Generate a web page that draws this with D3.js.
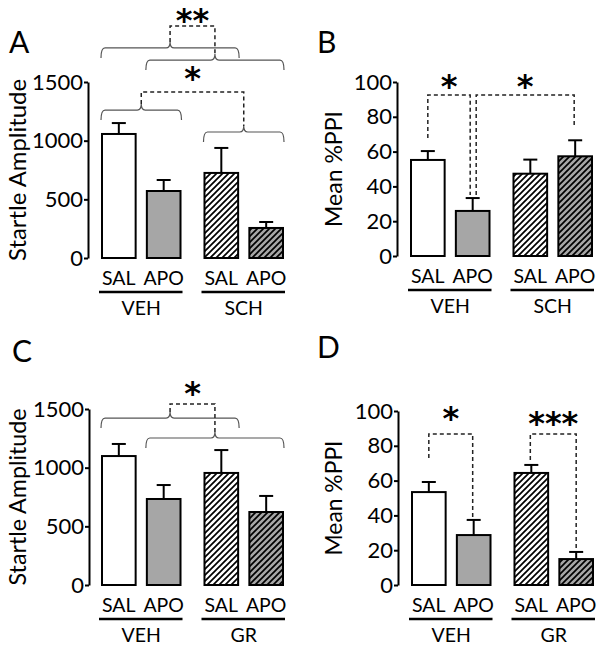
<!DOCTYPE html>
<html>
<head>
<meta charset="utf-8">
<script src="https://cdn.jsdelivr.net/npm/d3@7"></script>
<style>
body { margin: 0; background: #fff; }
svg { display: block; font-family: Lato, "Open Sans", sans-serif; }
</style>
</head>
<body>
<div id="chart"></div>
<script>
"use strict";

// categories
var conditions = ["SAL", "APO"];
var groupsSCH = ["VEH", "SCH"];
var groupsGR = ["VEH", "GR"];

// tick labels
var startleTicks = [0, 500, 1000, 1500];
var ppiTicks = [0, 20, 40, 60, 80, 100];

// A: startle amplitude, SCH experiment (mean, sem)
var startleSCH = [1057, 571, 725, 256];
var startleSCHsem = [93, 94, 213, 51];
// B: mean %PPI, SCH experiment
var ppiSCH = [55.2, 25.9, 47.3, 57.3];
var ppiSCHsem = [5.1, 7.4, 8.1, 9.2];
// C: startle amplitude, GR experiment
var startleGR = [1099, 733, 955, 622];
var startleGRsem = [103, 119, 195, 137];
// D: mean %PPI, GR experiment
var ppiGR = [53.4, 28.7, 64.4, 14.9];
var ppiGRsem = [5.8, 8.7, 4.6, 4.1];

var width = 602, height = 651;
var gray = "#a6a6a6";
var fills = ["#fff", gray, "url(#hatchW)", "url(#hatchG)"];

var svg = d3.select("#chart").append("svg")
    .attr("width", width)
    .attr("height", height);

svg.append("rect").attr("width", width).attr("height", height).attr("fill", "#fff");

// Hatch patterns for the antagonist bars.
var defs = svg.append("defs");
[["hatchW", "#fff"], ["hatchG", gray]].forEach(function(h) {
    var pat = defs.append("pattern")
        .attr("id", h[0])
        .attr("patternUnits", "userSpaceOnUse")
        .attr("width", 6)
        .attr("height", 6);
    pat.append("rect").attr("width", 6).attr("height", 6).attr("fill", h[1]);
    pat.append("path")
        .attr("d", "M-1,1 l2,-2 M0,6 l6,-6 M5,7 l2,-2")
        .attr("stroke", "#000")
        .attr("stroke-width", 1.7);
});

var panels = [
    {letter: "A", lx: 9, ly: 53, axisX: 88, x0: 102, x1: 283, yZero: 258, yTop: 82,
     max: 1500, ticks: startleTicks, ylabel: "Startle Amplitude", labelX: 26, labelLen: 182,
     groups: groupsSCH, values: startleSCH, sem: startleSCHsem,
     braces: [{from: 0, to: 2, y: 1790}, {from: 1, to: 3, y: 1687},
              {from: 0, to: 1, y: 1261}, {from: 2, to: 3, y: 1074}],
     links: [{a: 0, b: 1, y: 1977, label: "**", labelY: 2054},
             {a: 2, b: 3, y: 1415, label: "*", labelY: 1560}],
     brackets: []},
    {letter: "B", lx: 317, ly: 53, axisX: 397, x0: 411, x1: 592, yZero: 256, yTop: 82,
     max: 100, ticks: ppiTicks, ylabel: "Mean %PPI", labelX: 342, labelLen: 116,
     groups: groupsSCH, values: ppiSCH, sem: ppiSCHsem,
     braces: [], links: [],
     brackets: [{a: 0, aOff: 0, aY: 67.8, b: 1, bOff: -2.5, bY: 35, y: 92.5, label: "*", labelY: 99.4},
                {a: 1, aOff: 3.5, aY: 35, b: 3, bOff: -1, bY: 73.6, y: 92.5, label: "*", labelY: 99.4}]},
    {letter: "C", lx: 12, ly: 362, axisX: 89, x0: 102, x1: 283, yZero: 585, yTop: 409,
     max: 1500, ticks: startleTicks, ylabel: "Startle Amplitude", labelX: 26, labelLen: 177,
     groups: groupsGR, values: startleGR, sem: startleGRsem,
     braces: [{from: 0, to: 2, y: 1423}, {from: 1, to: 3, y: 1253}],
     links: [{a: 0, b: 1, y: 1543, label: "*", labelY: 1662}],
     brackets: []},
    {letter: "D", lx: 317, ly: 358, axisX: 398, x0: 412, x1: 593, yZero: 585, yTop: 411,
     max: 100, ticks: ppiTicks, ylabel: "Mean %PPI", labelX: 342, labelLen: 115,
     groups: groupsGR, values: ppiGR, sem: ppiGRsem,
     braces: [], links: [],
     brackets: [{a: 0, aOff: 0, aY: 73.0, b: 1, bOff: -1, bY: 37.4, y: 86.8, label: "*", labelY: 97.7},
                {a: 2, aOff: -1, aY: 71.8, b: 3, bOff: 0, bY: 20.1, y: 86.8, label: "***", labelY: 94.8}]}
];

panels.forEach(drawPanel);

function star(g, x, yCenter, label) {
    // asterisks sit high in the em box, so push the baseline down
    g.append("text")
        .attr("x", x)
        .attr("y", yCenter + 14)
        .attr("text-anchor", "middle")
        .attr("font-family", "DejaVu Sans")
        .attr("font-size", 32)
        .attr("font-weight", "bold")
        .text(label);
}

function bracePath(xa, xb, y) {
    var xm = (xa + xb) / 2, r = 4, drop = 10, rise = 6;
    return "M" + xa + "," + (y + drop) +
        "Q" + xa + "," + y + " " + (xa + r) + "," + y +
        "L" + (xm - r) + "," + y +
        "Q" + xm + "," + y + " " + xm + "," + (y - rise) +
        "Q" + xm + "," + y + " " + (xm + r) + "," + y +
        "L" + (xb - r) + "," + y +
        "Q" + xb + "," + y + " " + xb + "," + (y + drop);
}

function drawPanel(p) {
    var g = svg.append("g");

    var yScale = d3.scaleLinear().domain([0, p.max]).range([p.yZero, p.yTop]);
    var xGroup = d3.scaleBand().domain(p.groups).range([p.x0, p.x1]).paddingInner(0.234);
    var xCond = d3.scaleBand().domain(conditions).range([0, xGroup.bandwidth()]).paddingInner(0.25);

    var rows = p.values.map(function(v, i) {
        return {group: p.groups[Math.floor(i / 2)], cond: conditions[i % 2], value: v, sem: p.sem[i], i: i};
    });
    function left(d) { return xGroup(d.group) + xCond(d.cond); }
    function center(i) { return left(rows[i]) + xCond.bandwidth() / 2; }

    // panel letter
    g.append("text")
        .attr("x", p.lx)
        .attr("y", p.ly)
        .attr("font-size", 30)
        .text(p.letter);

    // y axis
    var axis = g.append("g")
        .attr("transform", "translate(" + p.axisX + ",0)")
        .call(d3.axisLeft(yScale).tickValues(p.ticks).tickFormat(d3.format("d"))
            .tickSize(4).tickSizeOuter(0).tickPadding(1));
    axis.attr("font-family", null).attr("font-size", null);
    axis.select(".domain").attr("stroke-width", 2);
    axis.selectAll(".tick line").attr("stroke-width", 2);
    axis.selectAll(".tick text").attr("font-size", 22).attr("fill", "#000");

    g.append("text")
        .attr("transform", "translate(" + p.labelX + "," + (p.yZero + p.yTop) / 2 + ") rotate(-90)")
        .attr("text-anchor", "middle")
        .attr("font-size", 23)
        .attr("textLength", p.labelLen)
        .attr("lengthAdjust", "spacingAndGlyphs")
        .text(p.ylabel);

    // error bars (upper only), then bars on top
    var err = g.selectAll(".err").data(rows).enter().append("g").attr("class", "err")
        .attr("stroke", "#000").attr("stroke-width", 2);
    err.append("line")
        .attr("x1", function(d) { return center(d.i); })
        .attr("x2", function(d) { return center(d.i); })
        .attr("y1", function(d) { return yScale(d.value); })
        .attr("y2", function(d) { return yScale(d.value + d.sem); });
    err.append("line")
        .attr("x1", function(d) { return center(d.i) - 7; })
        .attr("x2", function(d) { return center(d.i) + 7; })
        .attr("y1", function(d) { return yScale(d.value + d.sem); })
        .attr("y2", function(d) { return yScale(d.value + d.sem); });

    g.selectAll(".bar").data(rows).enter().append("rect")
        .attr("class", "bar")
        .attr("x", left)
        .attr("y", function(d) { return yScale(d.value); })
        .attr("width", xCond.bandwidth())
        .attr("height", function(d) { return yScale(0) - yScale(d.value); })
        .attr("fill", function(d) { return fills[d.i]; })
        .attr("stroke", "#000")
        .attr("stroke-width", 2);

    // category labels
    g.selectAll(".cond").data(rows).enter().append("text")
        .attr("x", function(d) { return center(d.i); })
        .attr("y", p.yZero + 27)
        .attr("text-anchor", "middle")
        .attr("font-size", 19.5)
        .text(function(d) { return d.cond; });

    p.groups.forEach(function(grp) {
        g.append("line")
            .attr("x1", xGroup(grp) - 3)
            .attr("x2", xGroup(grp) + xGroup.bandwidth() + 2)
            .attr("y1", p.yZero + 34)
            .attr("y2", p.yZero + 34)
            .attr("stroke", "#000")
            .attr("stroke-width", 2.5);
        g.append("text")
            .attr("x", xGroup(grp) + xGroup.bandwidth() / 2)
            .attr("y", p.yZero + 57)
            .attr("text-anchor", "middle")
            .attr("font-size", 19.5)
            .text(grp);
    });

    // curly braces grouping bars, linked by dashed lines
    var tips = p.braces.map(function(b) {
        var xa = left(rows[b.from]) - 1,
            xb = left(rows[b.to]) + xCond.bandwidth() + 1,
            yy = yScale(b.y);
        g.append("path")
            .attr("d", bracePath(xa, xb, yy))
            .attr("fill", "none")
            .attr("stroke", "#555")
            .attr("stroke-width", 1.2);
        return [(xa + xb) / 2, yy - 6];
    });

    p.links.forEach(function(l) {
        var ta = tips[l.a], tb = tips[l.b], yy = yScale(l.y);
        g.append("path")
            .attr("d", "M" + ta[0] + "," + ta[1] + "V" + yy + "H" + tb[0] + "V" + tb[1])
            .attr("fill", "none")
            .attr("stroke", "#222")
            .attr("stroke-width", 1.5)
            .attr("stroke-dasharray", "4,3");
        star(g, (ta[0] + tb[0]) / 2, yScale(l.labelY), l.label);
    });

    p.brackets.forEach(function(b) {
        var xa = center(b.a) + b.aOff, xb = center(b.b) + b.bOff, yy = yScale(b.y);
        g.append("path")
            .attr("d", "M" + xa + "," + yScale(b.aY) + "V" + yy + "H" + xb + "V" + yScale(b.bY))
            .attr("fill", "none")
            .attr("stroke", "#222")
            .attr("stroke-width", 1.5)
            .attr("stroke-dasharray", "4,3");
        star(g, (xa + xb) / 2, yScale(b.labelY), b.label);
    });
}
</script>
</body>
</html>
